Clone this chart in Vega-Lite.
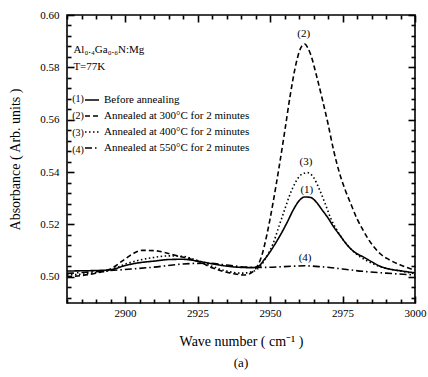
{
  "$schema": "https://vega.github.io/schema/vega-lite/v6.json",
  "width": 348,
  "height": 288,
  "autosize": {"type": "none"},
  "padding": {"left": 67, "top": 15, "right": 13, "bottom": 74},
  "background": "white",
  "config": {
    "font": "Liberation Serif",
    "view": {"stroke": "black", "strokeWidth": 1.6},
    "axis": {"grid": false, "domain": false, "ticks": true, "tickColor": "black", "tickWidth": 1.6, "labelColor": "black", "titleColor": "black", "labelFont": "Liberation Serif", "titleFont": "Liberation Serif", "labelFontSize": 11, "titleFontSize": 14, "titleFontWeight": "normal"}
  },
  "title": {"text": "(a)", "orient": "bottom", "anchor": "middle", "fontSize": 13, "fontWeight": "normal", "font": "Liberation Serif", "color": "black", "offset": 9},
  "datasets": {
    "curves": [
      {"w": 2880, "a": 0.5022, "s": "Before annealing"},
      {"w": 2885, "a": 0.5023, "s": "Before annealing"},
      {"w": 2890, "a": 0.5024, "s": "Before annealing"},
      {"w": 2895, "a": 0.5027, "s": "Before annealing"},
      {"w": 2900, "a": 0.5043, "s": "Before annealing"},
      {"w": 2905, "a": 0.5054, "s": "Before annealing"},
      {"w": 2910, "a": 0.5060, "s": "Before annealing"},
      {"w": 2915, "a": 0.5066, "s": "Before annealing"},
      {"w": 2920, "a": 0.5067, "s": "Before annealing"},
      {"w": 2925, "a": 0.5060, "s": "Before annealing"},
      {"w": 2930, "a": 0.5050, "s": "Before annealing"},
      {"w": 2935, "a": 0.5041, "s": "Before annealing"},
      {"w": 2940, "a": 0.5036, "s": "Before annealing"},
      {"w": 2944, "a": 0.5035, "s": "Before annealing"},
      {"w": 2946, "a": 0.5040, "s": "Before annealing"},
      {"w": 2948, "a": 0.5065, "s": "Before annealing"},
      {"w": 2950, "a": 0.5095, "s": "Before annealing"},
      {"w": 2952, "a": 0.5130, "s": "Before annealing"},
      {"w": 2954, "a": 0.5168, "s": "Before annealing"},
      {"w": 2956, "a": 0.5210, "s": "Before annealing"},
      {"w": 2958, "a": 0.5255, "s": "Before annealing"},
      {"w": 2960, "a": 0.5290, "s": "Before annealing"},
      {"w": 2962, "a": 0.5305, "s": "Before annealing"},
      {"w": 2964, "a": 0.5303, "s": "Before annealing"},
      {"w": 2966, "a": 0.5285, "s": "Before annealing"},
      {"w": 2968, "a": 0.5255, "s": "Before annealing"},
      {"w": 2970, "a": 0.5225, "s": "Before annealing"},
      {"w": 2972, "a": 0.5190, "s": "Before annealing"},
      {"w": 2974, "a": 0.5160, "s": "Before annealing"},
      {"w": 2976, "a": 0.5130, "s": "Before annealing"},
      {"w": 2978, "a": 0.5105, "s": "Before annealing"},
      {"w": 2980, "a": 0.5088, "s": "Before annealing"},
      {"w": 2982, "a": 0.5077, "s": "Before annealing"},
      {"w": 2985, "a": 0.5058, "s": "Before annealing"},
      {"w": 2988, "a": 0.5040, "s": "Before annealing"},
      {"w": 2991, "a": 0.5030, "s": "Before annealing"},
      {"w": 2995, "a": 0.5023, "s": "Before annealing"},
      {"w": 3000, "a": 0.5015, "s": "Before annealing"},

      {"w": 2880, "a": 0.5001, "s": "Annealed at 300°C for 2 minutes"},
      {"w": 2885, "a": 0.5005, "s": "Annealed at 300°C for 2 minutes"},
      {"w": 2890, "a": 0.5014, "s": "Annealed at 300°C for 2 minutes"},
      {"w": 2895, "a": 0.5030, "s": "Annealed at 300°C for 2 minutes"},
      {"w": 2900, "a": 0.5068, "s": "Annealed at 300°C for 2 minutes"},
      {"w": 2903, "a": 0.5090, "s": "Annealed at 300°C for 2 minutes"},
      {"w": 2906, "a": 0.5101, "s": "Annealed at 300°C for 2 minutes"},
      {"w": 2910, "a": 0.5100, "s": "Annealed at 300°C for 2 minutes"},
      {"w": 2914, "a": 0.5092, "s": "Annealed at 300°C for 2 minutes"},
      {"w": 2918, "a": 0.5080, "s": "Annealed at 300°C for 2 minutes"},
      {"w": 2922, "a": 0.5070, "s": "Annealed at 300°C for 2 minutes"},
      {"w": 2926, "a": 0.5055, "s": "Annealed at 300°C for 2 minutes"},
      {"w": 2930, "a": 0.5035, "s": "Annealed at 300°C for 2 minutes"},
      {"w": 2934, "a": 0.5020, "s": "Annealed at 300°C for 2 minutes"},
      {"w": 2938, "a": 0.5011, "s": "Annealed at 300°C for 2 minutes"},
      {"w": 2941, "a": 0.5007, "s": "Annealed at 300°C for 2 minutes"},
      {"w": 2943, "a": 0.5012, "s": "Annealed at 300°C for 2 minutes"},
      {"w": 2945, "a": 0.5030, "s": "Annealed at 300°C for 2 minutes"},
      {"w": 2947, "a": 0.5075, "s": "Annealed at 300°C for 2 minutes"},
      {"w": 2949, "a": 0.5165, "s": "Annealed at 300°C for 2 minutes"},
      {"w": 2951, "a": 0.5280, "s": "Annealed at 300°C for 2 minutes"},
      {"w": 2953, "a": 0.5410, "s": "Annealed at 300°C for 2 minutes"},
      {"w": 2955, "a": 0.5550, "s": "Annealed at 300°C for 2 minutes"},
      {"w": 2957, "a": 0.5695, "s": "Annealed at 300°C for 2 minutes"},
      {"w": 2959, "a": 0.5815, "s": "Annealed at 300°C for 2 minutes"},
      {"w": 2961, "a": 0.5882, "s": "Annealed at 300°C for 2 minutes"},
      {"w": 2962, "a": 0.5889, "s": "Annealed at 300°C for 2 minutes"},
      {"w": 2963, "a": 0.5875, "s": "Annealed at 300°C for 2 minutes"},
      {"w": 2964, "a": 0.5850, "s": "Annealed at 300°C for 2 minutes"},
      {"w": 2966, "a": 0.5770, "s": "Annealed at 300°C for 2 minutes"},
      {"w": 2968, "a": 0.5680, "s": "Annealed at 300°C for 2 minutes"},
      {"w": 2970, "a": 0.5585, "s": "Annealed at 300°C for 2 minutes"},
      {"w": 2972, "a": 0.5480, "s": "Annealed at 300°C for 2 minutes"},
      {"w": 2974, "a": 0.5395, "s": "Annealed at 300°C for 2 minutes"},
      {"w": 2976, "a": 0.5330, "s": "Annealed at 300°C for 2 minutes"},
      {"w": 2978, "a": 0.5275, "s": "Annealed at 300°C for 2 minutes"},
      {"w": 2980, "a": 0.5222, "s": "Annealed at 300°C for 2 minutes"},
      {"w": 2982, "a": 0.5180, "s": "Annealed at 300°C for 2 minutes"},
      {"w": 2984, "a": 0.5142, "s": "Annealed at 300°C for 2 minutes"},
      {"w": 2986, "a": 0.5112, "s": "Annealed at 300°C for 2 minutes"},
      {"w": 2988, "a": 0.5088, "s": "Annealed at 300°C for 2 minutes"},
      {"w": 2991, "a": 0.5066, "s": "Annealed at 300°C for 2 minutes"},
      {"w": 2995, "a": 0.5045, "s": "Annealed at 300°C for 2 minutes"},
      {"w": 3000, "a": 0.5025, "s": "Annealed at 300°C for 2 minutes"},

      {"w": 2880, "a": 0.5007, "s": "Annealed at 400°C for 2 minutes"},
      {"w": 2885, "a": 0.5010, "s": "Annealed at 400°C for 2 minutes"},
      {"w": 2890, "a": 0.5016, "s": "Annealed at 400°C for 2 minutes"},
      {"w": 2895, "a": 0.5026, "s": "Annealed at 400°C for 2 minutes"},
      {"w": 2900, "a": 0.5048, "s": "Annealed at 400°C for 2 minutes"},
      {"w": 2905, "a": 0.5064, "s": "Annealed at 400°C for 2 minutes"},
      {"w": 2910, "a": 0.5074, "s": "Annealed at 400°C for 2 minutes"},
      {"w": 2915, "a": 0.5080, "s": "Annealed at 400°C for 2 minutes"},
      {"w": 2920, "a": 0.5078, "s": "Annealed at 400°C for 2 minutes"},
      {"w": 2925, "a": 0.5062, "s": "Annealed at 400°C for 2 minutes"},
      {"w": 2930, "a": 0.5040, "s": "Annealed at 400°C for 2 minutes"},
      {"w": 2935, "a": 0.5022, "s": "Annealed at 400°C for 2 minutes"},
      {"w": 2940, "a": 0.5014, "s": "Annealed at 400°C for 2 minutes"},
      {"w": 2944, "a": 0.5020, "s": "Annealed at 400°C for 2 minutes"},
      {"w": 2947, "a": 0.5045, "s": "Annealed at 400°C for 2 minutes"},
      {"w": 2949, "a": 0.5080, "s": "Annealed at 400°C for 2 minutes"},
      {"w": 2951, "a": 0.5125, "s": "Annealed at 400°C for 2 minutes"},
      {"w": 2953, "a": 0.5190, "s": "Annealed at 400°C for 2 minutes"},
      {"w": 2955, "a": 0.5255, "s": "Annealed at 400°C for 2 minutes"},
      {"w": 2957, "a": 0.5318, "s": "Annealed at 400°C for 2 minutes"},
      {"w": 2959, "a": 0.5365, "s": "Annealed at 400°C for 2 minutes"},
      {"w": 2961, "a": 0.5392, "s": "Annealed at 400°C for 2 minutes"},
      {"w": 2963, "a": 0.5398, "s": "Annealed at 400°C for 2 minutes"},
      {"w": 2965, "a": 0.5380, "s": "Annealed at 400°C for 2 minutes"},
      {"w": 2967, "a": 0.5335, "s": "Annealed at 400°C for 2 minutes"},
      {"w": 2969, "a": 0.5280, "s": "Annealed at 400°C for 2 minutes"},
      {"w": 2971, "a": 0.5222, "s": "Annealed at 400°C for 2 minutes"},
      {"w": 2973, "a": 0.5180, "s": "Annealed at 400°C for 2 minutes"},
      {"w": 2975, "a": 0.5145, "s": "Annealed at 400°C for 2 minutes"},
      {"w": 2978, "a": 0.5105, "s": "Annealed at 400°C for 2 minutes"},
      {"w": 2981, "a": 0.5077, "s": "Annealed at 400°C for 2 minutes"},
      {"w": 2984, "a": 0.5058, "s": "Annealed at 400°C for 2 minutes"},
      {"w": 2988, "a": 0.5039, "s": "Annealed at 400°C for 2 minutes"},
      {"w": 2992, "a": 0.5028, "s": "Annealed at 400°C for 2 minutes"},
      {"w": 2996, "a": 0.5020, "s": "Annealed at 400°C for 2 minutes"},
      {"w": 3000, "a": 0.5012, "s": "Annealed at 400°C for 2 minutes"},

      {"w": 2880, "a": 0.5013, "s": "Annealed at 550°C for 2 minutes"},
      {"w": 2890, "a": 0.5020, "s": "Annealed at 550°C for 2 minutes"},
      {"w": 2900, "a": 0.5028, "s": "Annealed at 550°C for 2 minutes"},
      {"w": 2910, "a": 0.5037, "s": "Annealed at 550°C for 2 minutes"},
      {"w": 2920, "a": 0.5049, "s": "Annealed at 550°C for 2 minutes"},
      {"w": 2928, "a": 0.5052, "s": "Annealed at 550°C for 2 minutes"},
      {"w": 2935, "a": 0.5045, "s": "Annealed at 550°C for 2 minutes"},
      {"w": 2942, "a": 0.5037, "s": "Annealed at 550°C for 2 minutes"},
      {"w": 2948, "a": 0.5036, "s": "Annealed at 550°C for 2 minutes"},
      {"w": 2955, "a": 0.5039, "s": "Annealed at 550°C for 2 minutes"},
      {"w": 2962, "a": 0.5042, "s": "Annealed at 550°C for 2 minutes"},
      {"w": 2968, "a": 0.5038, "s": "Annealed at 550°C for 2 minutes"},
      {"w": 2975, "a": 0.5030, "s": "Annealed at 550°C for 2 minutes"},
      {"w": 2982, "a": 0.5021, "s": "Annealed at 550°C for 2 minutes"},
      {"w": 2990, "a": 0.5014, "s": "Annealed at 550°C for 2 minutes"},
      {"w": 3000, "a": 0.5007, "s": "Annealed at 550°C for 2 minutes"}
    ],
    "notesTop": [
      {"w": 2882.2, "a": 0.5866, "t": "Al₀.₄Ga₀.₆N:Mg"},
      {"w": 2882.2, "a": 0.5801, "t": "T=77K"}
    ],
    "notesPrefix": [
      {"w": 2881.8, "a": 0.5679, "t": "(1)"},
      {"w": 2881.8, "a": 0.5614, "t": "(2)"},
      {"w": 2881.8, "a": 0.5549, "t": "(3)"},
      {"w": 2881.8, "a": 0.5484, "t": "(4)"}
    ],
    "notesPeak": [
      {"w": 2961.6, "a": 0.5928, "t": "(2)"},
      {"w": 2962.4, "a": 0.5439, "t": "(3)"},
      {"w": 2962.7, "a": 0.5332, "t": "(1)"},
      {"w": 2962.1, "a": 0.5072, "t": "(4)"}
    ]
  },
  "layer": [
    {
      "data": {"name": "curves"},
      "mark": {"type": "line", "color": "black", "strokeWidth": 1.6, "interpolate": "monotone"},
      "encoding": {
        "x": {
          "field": "w", "type": "quantitative",
          "scale": {"domain": [2880, 3000], "nice": false, "zero": false},
          "axis": {
            "orient": "bottom",
            "values": [2900, 2925, 2950, 2975, 3000],
            "format": "d",
            "tickSize": -7,
            "labelFlush": false,
            "labelPadding": 11,
            "title": "Wave number ( cm⁻¹ )",
            "titlePadding": 16
          }
        },
        "y": {
          "field": "a", "type": "quantitative",
          "scale": {"domain": [0.49, 0.6], "nice": false, "zero": false},
          "axis": {
            "orient": "left",
            "values": [0.5, 0.52, 0.54, 0.56, 0.58, 0.6],
            "format": ".2f",
            "tickSize": -7,
            "labelPadding": 15,
            "title": "Absorbance ( Arb. units )",
            "titlePadding": 17
          }
        },
        "strokeDash": {
          "field": "s", "type": "nominal",
          "scale": {
            "domain": ["Before annealing", "Annealed at 300°C for 2 minutes", "Annealed at 400°C for 2 minutes", "Annealed at 550°C for 2 minutes"],
            "range": [[1, 0], [5, 3], [1.5, 2.5], [7, 3, 1.5, 3]]
          },
          "legend": {
            "orient": "none", "legendX": 17, "legendY": 77, "title": null, "padding": 0,
            "symbolType": "stroke", "symbolSize": 196, "symbolStrokeWidth": 1.3, "symbolStrokeColor": "black",
            "labelFont": "Liberation Serif", "labelFontSize": 11, "labelColor": "black", "labelOffset": 4,
            "rowPadding": 3, "labelLimit": 300
          }
        }
      }
    },
    {
      "data": {"name": "notesTop"},
      "mark": {"type": "text", "align": "left", "baseline": "middle", "fontSize": 11, "font": "Liberation Serif", "color": "black"},
      "encoding": {
        "x": {"field": "w", "type": "quantitative", "axis": {"orient": "top", "labels": false, "title": null, "values": [2900, 2925, 2950, 2975, 3000], "tickSize": -7}},
        "y": {"field": "a", "type": "quantitative", "axis": {"orient": "right", "labels": false, "title": null, "values": [0.5, 0.52, 0.54, 0.56, 0.58, 0.6], "tickSize": -7}},
        "text": {"field": "t", "type": "nominal"}
      }
    },
    {
      "data": {"name": "notesPrefix"},
      "mark": {"type": "text", "align": "left", "baseline": "middle", "fontSize": 10, "font": "Liberation Serif", "color": "black"},
      "encoding": {
        "x": {"field": "w", "type": "quantitative", "axis": {"orient": "top", "labels": false, "title": null, "values": [2880, 2885, 2890, 2895, 2905, 2910, 2915, 2920, 2930, 2935, 2940, 2945, 2955, 2960, 2965, 2970, 2980, 2985, 2990, 2995], "tickSize": -4}},
        "y": {"field": "a", "type": "quantitative", "axis": {"orient": "right", "labels": false, "title": null, "values": [0.492, 0.496, 0.504, 0.508, 0.512, 0.516, 0.524, 0.528, 0.532, 0.536, 0.544, 0.548, 0.552, 0.556, 0.564, 0.568, 0.572, 0.576, 0.584, 0.588, 0.592, 0.596], "tickSize": -4}},
        "text": {"field": "t", "type": "nominal"}
      }
    },
    {
      "data": {"name": "notesPeak"},
      "mark": {"type": "text", "align": "center", "baseline": "middle", "fontSize": 11, "font": "Liberation Serif", "color": "black"},
      "encoding": {
        "x": {"field": "w", "type": "quantitative", "axis": {"orient": "bottom", "labels": false, "title": null, "values": [2880, 2885, 2890, 2895, 2905, 2910, 2915, 2920, 2930, 2935, 2940, 2945, 2955, 2960, 2965, 2970, 2980, 2985, 2990, 2995], "tickSize": -4}},
        "y": {"field": "a", "type": "quantitative", "axis": {"orient": "left", "labels": false, "title": null, "values": [0.492, 0.496, 0.504, 0.508, 0.512, 0.516, 0.524, 0.528, 0.532, 0.536, 0.544, 0.548, 0.552, 0.556, 0.564, 0.568, 0.572, 0.576, 0.584, 0.588, 0.592, 0.596], "tickSize": -4}},
        "text": {"field": "t", "type": "nominal"}
      }
    }
  ],
  "resolve": {"axis": {"x": "independent", "y": "independent"}}
}
